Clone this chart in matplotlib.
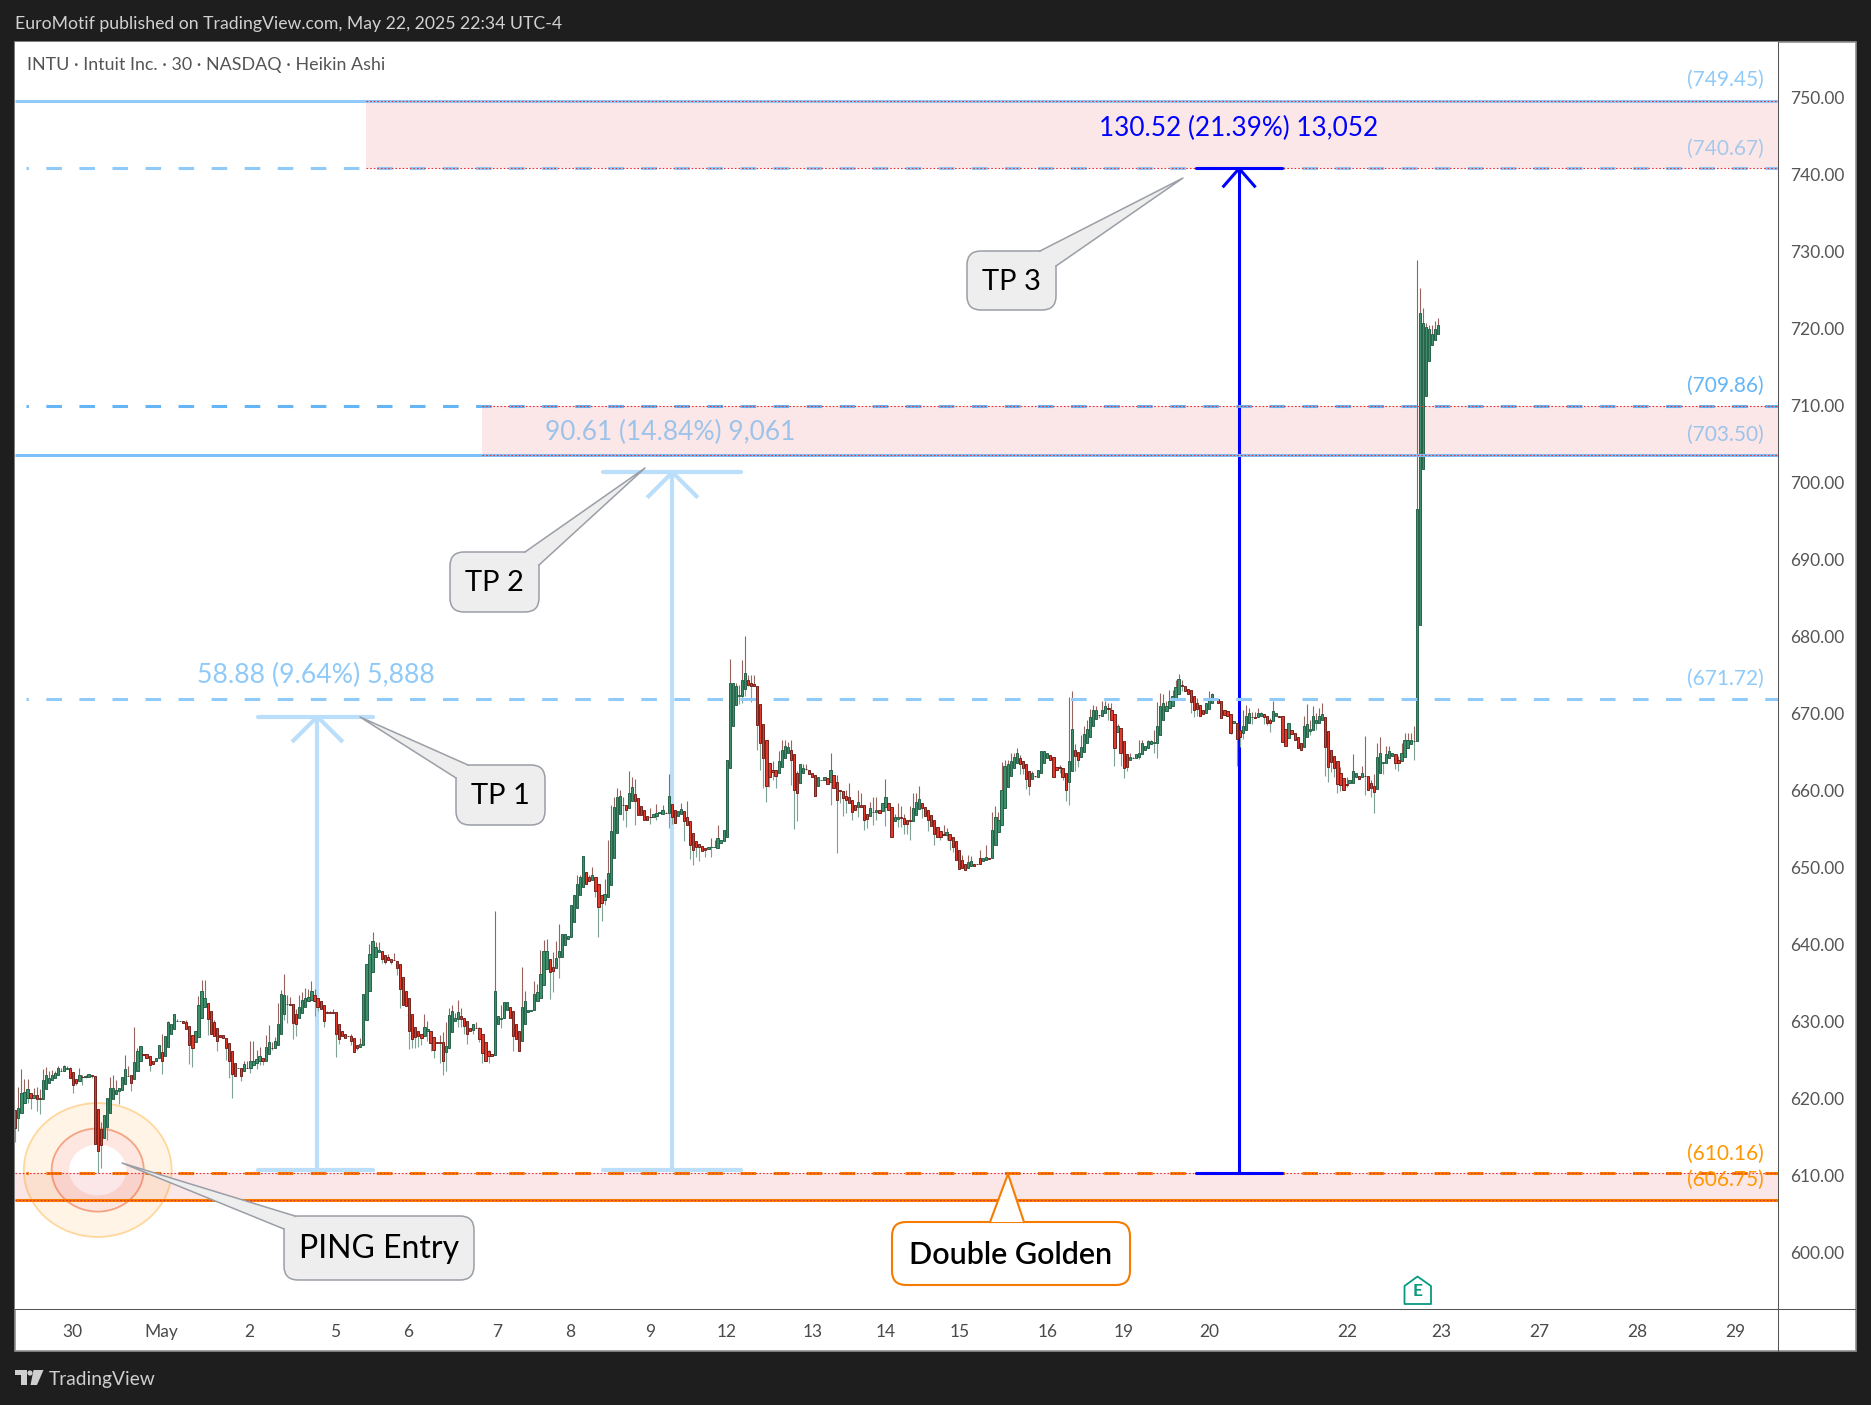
import matplotlib
matplotlib.use("Agg")
import numpy as np
import matplotlib.pyplot as plt
from matplotlib.patches import Rectangle, FancyBboxPatch, Polygon, PathPatch, Circle, Ellipse
from matplotlib.path import Path
from matplotlib.transforms import Affine2D, ScaledTranslation

plt.rcParams['font.family'] = ['Lato', 'DejaVu Sans']
plt.rcParams['lines.scale_dashes'] = False

W, H = 1871, 1405

# candles, one list per stretch of the chart: (open, close, high, low)
bars_apr29 = [
 (618.4,616.1,618.4,614.3),(617.3,618.6,621.4,615.7),(618.0,620.6,623.7,618.0),(619.3,620.7,622.4,619.3),
 (619.9,621.1,622.4,619.3),(620.6,619.9,620.6,618.5),(619.9,620.3,621.3,619.9),(620.3,619.8,621.4,618.2),
 (620.0,619.8,621.1,617.9),(619.8,622.3,623.7,619.8),(621.1,623.0,624.0,621.1),(621.9,622.5,623.4,621.9),
 (622.3,622.9,623.6,622.3),(622.6,623.2,623.5,622.6),(623.0,623.8,624.1,623.0),(623.4,623.45,623.9,623.4),
 (623.4,624.1,624.3,623.4),(623.7,623.9,624.1,623.7),(623.8,622.6,624.0,622.6),(623.3,621.6,623.3,620.6),
 (622.4,621.9,622.4,621.6),(622.1,622.9,623.9,622.1),(622.7,622.65,622.9,621.7),(622.7,622.75,622.9,622.6),
 (622.7,623.1,623.1,622.7),(622.9,622.8,622.9,622.5),(622.8,614.0,622.8,614.0),(618.5,613.1,618.5,610.2),
 (615.9,613.9,616.8,610.8),(614.8,617.7,617.7,614.8),(616.2,619.9,619.9,614.5),(618.0,621.3,622.7,618.0),
 (619.8,621.3,623.0,619.8),(620.5,621.0,622.3,620.5),(620.8,621.3,621.3,619.2),(621.0,622.7,622.7,621.0),
 (621.8,623.7,625.5,621.8),(622.75,622.8,624.1,622.75),(622.9,621.9,622.9,620.9),(622.4,624.6,629.2,622.4),
 (623.4,626.0,626.4,623.4),(624.7,626.7,626.7,624.7),(625.7,625.6,625.7,625.6),(625.7,625.2,625.7,625.2),
 (625.4,624.3,625.4,623.4),(624.8,624.4,624.8,624.4),(624.7,625.2,625.2,624.7),(625.1,626.9,626.9,625.1),
 (625.9,624.8,628.3,623.1),(625.4,628.0,628.0,625.4),(626.6,629.8,629.9,626.6),(628.2,629.6,629.6,628.2),
 (628.9,630.9,630.9,628.9),(629.9,629.95,630.2,629.9),(629.9,629.95,629.95,629.9),(629.9,629.7,629.9,629.7),
 (629.8,628.9,630.1,628.9),(629.3,626.9,629.3,624.4),(628.1,626.4,628.1,624.0),(627.2,628.7,628.7,627.2),
 (627.9,632.0,633.2,627.9),(630.3,633.8,635.3,630.3),(631.8,632.9,635.3,631.8),(632.3,630.2,632.3,628.1),
 (631.3,628.3,631.3,628.3),(629.8,628.0,630.1,628.0),(629.0,627.3,629.0,626.0),(628.1,627.9,628.1,627.9),
 (628.1,627.7,628.1,627.7),(627.8,626.5,627.8,624.9),(627.1,624.7,627.1,622.6),(626.0,623.1,626.0,620.0),
 (624.5,622.8,624.5,622.8),(623.8,623.85,623.9,623.8),(623.8,622.8,623.8,622.2),(623.4,624.4,624.7,623.4),
 (623.9,623.85,624.7,623.9),(623.8,624.8,627.3,623.2),(624.3,624.8,627.3,624.3),
]
bars_may02 = [
 (624.5,625.0,626.2,623.7),(624.8,625.4,626.6,624.2),(625.1,624.7,625.1,624.2),(624.8,626.6,628.1,624.8),
 (625.7,627.2,629.4,625.7),(626.5,626.45,627.2,626.2),(626.4,627.3,627.9,626.4),(626.9,629.6,632.3,626.9),
 (628.2,633.4,634.0,628.2),(630.8,633.3,636.0,630.1),(632.1,632.15,633.3,629.7),(632.1,632.05,633.1,632.0),
 (632.1,629.7,632.1,627.6),(630.9,629.6,631.5,628.0),(630.3,631.8,633.3,630.3),(631.0,632.7,633.7,631.0),
 (631.8,633.0,634.2,631.8),(632.5,633.1,634.1,632.5),(632.7,633.9,635.1,632.7),(633.3,632.6,634.1,630.6),
 (633.0,631.8,633.0,631.2),(632.5,631.5,632.5,631.5),(632.0,630.0,632.0,629.2),(631.1,631.05,631.2,631.0),
 (631.1,631.05,631.2,631.0),(631.1,631.05,631.5,631.0),(631.1,628.3,631.1,625.3),(629.6,627.6,629.6,627.0),
 (628.7,628.0,628.7,628.0),(628.3,627.7,628.3,627.7),(628.0,627.95,628.0,627.95),(628.0,627.4,628.2,626.8),
 (627.7,625.9,627.7,625.9),(626.8,626.5,626.8,626.2),(626.6,627.0,627.7,626.6),(626.9,633.5,633.5,626.9),
 (630.1,637.3,637.3,630.1),(633.8,638.7,640.0,633.8),(636.3,640.3,641.5,636.3),(638.3,639.6,640.2,638.3),
 (638.9,639.2,640.2,638.9),(639.1,638.0,639.1,637.5),(638.5,637.6,638.5,637.3),(638.2,637.9,638.6,637.9),
 (638.0,637.6,638.0,637.4),(637.9,637.85,638.8,637.9),(637.8,636.9,637.8,635.9),(637.4,634.1,637.4,631.6),
 (635.7,632.0,635.7,632.0),(633.9,631.9,633.9,631.9),(632.9,628.6,632.9,626.3),(630.8,627.6,630.8,626.4),
 (629.2,627.9,629.2,626.5),(628.6,628.0,628.6,626.6),(628.3,627.7,628.3,626.8),(628.0,629.2,630.9,628.0),
 (628.6,628.9,630.0,627.4),(628.7,627.1,628.7,626.1),(627.9,626.2,627.9,625.2),(627.2,627.15,627.2,627.1),
 (627.2,627.15,628.1,624.5),(627.2,624.8,628.5,623.0),(625.9,626.7,629.8,623.5),(626.4,630.7,631.6,626.4),
 (628.5,631.3,632.0,628.5),(629.9,630.4,631.0,629.9),(630.2,631.1,632.7,629.2),(630.6,630.2,631.6,629.2),
 (630.4,629.3,630.4,628.2),(629.9,628.2,629.9,627.0),(629.1,628.6,629.1,628.6),(628.8,629.5,629.5,628.2),
 (629.1,629.05,629.8,629.0),(629.1,627.6,629.2,627.2),(628.3,625.8,628.3,624.5),(627.2,624.8,627.2,624.8),
 (626.0,625.4,626.2,624.5),(625.7,625.4,625.7,625.4),
]
bars_may07 = [
 (625.5,633.8,644.3,625.5),(629.6,630.6,630.6,629.6),(630.2,630.4,632.0,629.1),(630.3,632.4,632.4,630.3),
 (631.4,632.4,632.4,631.4),(631.8,630.4,631.8,630.4),(631.2,628.0,631.2,626.1),(629.6,627.6,629.6,627.6),
 (628.6,626.0,628.6,626.0),(627.3,631.8,637.0,627.3),(629.6,632.6,633.8,629.6),(631.1,631.4,631.4,631.1),
 (631.3,631.35,631.4,631.3),(631.4,633.4,635.1,631.4),(632.6,633.7,634.8,632.6),(633.0,636.1,639.2,633.0),
 (634.6,639.0,640.5,634.6),(636.7,639.0,640.6,636.7),(638.0,636.3,638.0,632.8),(637.0,636.5,638.9,633.7),
 (636.8,638.1,640.3,636.8),(638.2,639.0,642.6,635.5),(638.2,641.3,641.3,638.2),(639.8,641.3,641.3,639.8),
 (640.6,641.0,641.0,640.6),(640.8,645.0,645.0,640.8),(642.8,646.3,646.3,642.8),(644.6,647.8,648.9,644.6),
 (646.3,648.6,648.9,646.3),(647.4,651.4,651.4,647.4),(649.3,647.8,649.3,647.8),(648.6,648.1,648.9,648.1),
 (648.2,648.9,649.9,648.2),(648.6,646.8,648.6,646.1),(647.7,644.7,647.7,640.9),(646.3,645.3,646.3,642.9),
 (645.7,646.5,648.4,645.0),(646.1,649.2,653.4,646.1),(647.6,654.6,658.0,647.6),(651.1,657.7,659.1,651.1),
 (654.4,659.1,660.2,654.4),(656.8,659.2,659.9,656.8),(658.0,657.95,659.1,656.1),(658.0,657.3,658.0,655.2),
 (657.6,659.5,662.4,657.6),(658.5,660.3,661.7,658.5),(659.4,658.5,661.4,655.4),(658.9,656.7,658.9,656.7),
 (657.9,656.7,657.9,656.7),(657.3,656.0,657.3,656.0),(656.6,656.0,656.6,656.0),(656.45,656.4,657.6,655.5),
 (656.4,656.8,656.8,656.4),(656.6,657.0,658.1,656.1),(657.0,657.05,657.1,657.0),(656.9,657.3,658.0,656.9),
 (657.0,656.95,657.1,657.0),(657.0,659.2,662.0,655.0),(658.1,656.4,658.1,655.6),(657.3,655.7,657.3,655.7),
 (656.6,657.2,657.2,656.6),(656.9,657.5,658.2,656.9),(657.2,655.9,657.2,653.3),(656.5,655.4,658.5,655.4),
 (655.9,652.8,655.9,651.0),(654.4,652.2,654.4,650.2),(653.3,652.5,653.3,651.2),(652.9,652.5,652.9,650.7),
 (652.7,652.0,652.7,652.0),(652.4,652.1,652.4,651.3),(652.3,652.6,652.6,652.3),(652.5,652.55,653.7,651.3),
 (652.5,652.55,653.4,652.5),(652.4,653.7,655.4,652.4),(653.1,653.5,653.5,653.1),(653.3,654.7,654.7,653.3),
 (653.9,663.8,663.8,653.9),(662.8,673.8,677.0,662.8),(668.3,673.8,673.8,668.3),
]
bars_may12 = [
 (671.0,673.5,673.8,671.0),(672.2,672.25,673.6,671.1),(672.2,674.2,676.8,671.3),(673.1,675.1,680.0,672.2),
 (674.2,673.6,674.9,673.4),(673.9,673.5,674.9,671.4),(673.7,673.4,674.9,673.4),(673.5,668.4,673.5,665.1),
 (671.1,666.0,671.1,662.5),(668.5,664.1,668.5,660.2),(666.4,660.5,666.4,658.4),(663.4,661.7,663.4,660.4),
 (662.6,662.3,663.7,661.2),(662.5,661.8,662.5,660.2),(662.1,663.7,665.0,662.1),(662.9,665.1,666.4,662.9),
 (664.1,665.7,666.4,664.1),(664.8,665.5,666.2,664.8),(665.2,663.9,666.4,660.6),(664.6,660.0,664.6,654.9),
 (662.2,659.5,662.4,655.9),(660.9,663.3,663.3,660.9),(662.1,662.8,663.3,662.1),(662.7,662.65,663.3,662.6),
 (662.6,662.0,662.6,662.0),(662.2,661.6,662.2,661.6),(661.9,659.2,661.9,659.2),(660.5,661.6,661.6,660.5),
 (661.2,661.25,661.3,661.2),(661.2,661.7,661.7,661.2),(661.5,660.7,661.5,660.7),(661.0,662.6,664.8,658.0),
 (661.9,660.2,661.9,660.2),(661.0,658.7,661.9,651.8),(659.9,659.85,659.9,658.3),(659.8,658.9,659.8,656.6),
 (659.2,658.7,659.9,657.0),(659.0,658.2,660.8,658.2),(658.6,657.1,658.6,656.0),(658.0,657.4,658.0,657.4),
 (657.7,658.4,659.9,656.4),(658.0,657.8,659.6,657.8),(658.0,656.0,658.0,654.7),(656.9,656.2,656.9,655.0),
 (656.6,657.6,658.4,656.6),(657.1,657.15,659.0,655.4),(657.1,657.4,659.0,656.0),(657.3,657.0,657.3,657.0),
 (657.2,658.2,658.2,657.2),(657.7,659.0,661.4,655.3),(658.3,657.3,658.3,657.3),(657.8,653.9,657.8,653.9),
 (655.9,656.5,656.8,655.9),(656.2,656.5,658.3,655.2),(656.4,656.35,657.9,655.2),(656.3,655.6,656.9,654.3),
 (656.0,655.6,656.0,654.2),(656.0,655.95,657.9,653.4),(655.9,657.6,659.5,655.9),(656.7,658.4,659.6,656.7),
 (657.5,658.8,660.5,657.5),(658.2,657.6,658.2,656.3),(657.8,656.6,657.8,656.6),(657.3,656.0,657.3,654.6),
 (656.7,655.3,656.7,655.3),(656.0,654.2,656.0,652.8),(655.1,653.9,655.1,653.9),(654.6,653.9,654.6,653.4),
 (654.2,654.15,655.4,654.2),(654.1,654.5,655.0,653.4),(654.3,653.4,654.3,652.2),(653.9,652.6,653.9,651.9),
 (653.3,650.9,653.3,650.9),(652.1,649.7,652.1,649.7),(650.9,649.8,651.5,649.8),(650.4,649.5,650.4,649.5),
 (649.8,650.6,651.5,649.8),(650.1,650.7,651.4,650.1),(650.4,650.1,650.4,650.1),
]
bars_may15 = [
 (650.4,650.35,650.4,650.3),(651.1,650.4,652.1,650.4),(650.7,651.1,651.1,650.7),(650.8,651.2,652.8,650.8),
 (651.1,651.05,651.1,651.0),(651.1,654.7,657.1,651.1),(652.8,656.4,657.9,652.8),(654.5,656.1,657.1,654.5),
 (655.4,659.9,663.6,655.4),(657.6,663.1,663.9,657.6),(660.4,663.3,663.8,660.4),(661.8,663.7,664.7,661.8),
 (662.8,664.2,664.8,662.8),(663.4,664.7,665.4,663.4),(664.1,663.3,664.5,662.0),(663.7,662.8,663.7,662.0),
 (663.3,661.4,663.3,660.1),(662.4,660.5,662.4,659.3),(661.4,662.2,662.4,661.4),(661.8,661.75,661.8,661.7),
 (661.7,662.5,662.5,661.7),(662.1,665.0,665.0,662.1),(663.5,665.0,665.0,663.5),(664.1,664.7,664.7,664.1),
 (664.5,663.9,664.5,663.9),(664.2,661.7,664.2,661.7),(663.0,662.6,663.0,662.6),(662.9,662.85,663.2,662.1),
 (662.8,661.7,662.8,661.3),(662.2,659.9,662.2,658.5),(661.0,663.7,672.0,658.0),(662.4,667.9,672.8,662.4),
 (665.2,664.4,665.9,662.4),(664.9,663.9,664.9,662.9),(664.3,665.5,667.1,664.3),(664.9,667.2,668.2,664.9),
 (666.0,667.9,669.0,666.0),(666.9,669.4,670.5,666.9),(668.2,670.4,671.0,668.2),(669.2,670.3,670.9,669.2),
 (669.75,669.7,669.75,669.3),(669.6,670.3,671.5,669.6),(670.0,670.8,671.5,670.0),(670.55,670.5,671.2,669.0),
 (670.4,669.1,671.2,669.1),(669.8,665.4,669.8,663.1),(667.5,668.2,668.5,667.5),(668.0,664.7,668.0,663.1),
 (666.3,662.8,666.3,661.5),(664.6,663.0,664.6,662.4),(663.8,664.2,664.8,663.8),(664.1,664.15,664.2,664.1),
 (664.1,664.6,664.6,664.1),(664.3,664.8,666.5,664.0),(664.6,666.0,666.4,664.6),(665.2,665.7,665.7,665.2),
 (665.4,666.3,666.5,665.4),(665.9,666.3,666.4,665.9),(666.1,666.15,667.7,664.7),(666.1,668.2,671.4,664.1),
 (667.1,670.9,672.5,667.1),(669.0,671.2,672.4,669.0),(670.2,670.8,671.5,670.2),(670.6,671.5,673.0,670.6),
 (670.9,672.1,673.0,670.9),(671.6,673.3,674.2,671.6),(672.4,674.4,675.0,672.4),(673.6,673.4,674.2,672.8),
 (673.5,672.8,673.5,672.8),(673.1,672.4,673.1,672.4),(673.0,671.4,673.0,670.0),(672.2,670.4,672.2,669.4),
 (671.3,670.5,671.9,669.6),(671.0,669.6,671.0,669.6),(670.3,669.8,670.3,669.8),(670.0,671.2,671.2,670.0),
 (670.5,671.8,672.8,670.5),(671.2,672.4,672.5,671.2),
]
bars_may20 = [
 (671.9,671.85,671.9,671.8),(671.8,671.2,671.8,671.2),(671.5,669.3,671.5,669.3),(670.4,669.7,670.4,669.7),
 (670.2,669.5,670.2,669.5),(669.8,667.4,669.8,667.2),(668.6,668.9,668.9,668.6),(668.7,666.6,668.7,663.1),
 (667.7,666.9,667.7,665.6),(667.3,668.3,670.4,666.6),(667.8,669.6,671.0,667.8),(668.7,669.9,670.6,668.7),
 (669.4,669.45,670.1,668.5),(669.4,669.35,670.1,669.3),(669.4,670.0,670.6,669.4),(669.6,669.9,670.1,669.6),
 (669.8,669.4,669.8,668.5),(669.6,668.7,669.6,668.4),(669.1,668.6,669.3,667.5),(668.9,670.2,671.5,668.9),
 (669.5,669.9,669.9,669.5),(669.6,669.4,669.6,669.4),(669.5,666.2,669.5,666.2),(667.9,665.7,667.9,665.7),
 (666.7,668.6,668.6,666.7),(667.7,667.2,667.7,667.2),(667.4,666.4,667.4,666.4),(666.9,665.4,666.9,665.4),
 (666.1,665.1,666.1,665.1),(665.6,668.3,669.5,665.6),(666.9,668.5,671.1,666.9),(667.6,667.9,669.0,667.1),
 (667.8,669.6,670.8,667.8),(668.6,669.0,670.0,667.8),(668.7,669.5,670.6,668.7),(669.1,669.8,671.2,669.1),
 (669.4,665.6,669.4,661.8),(667.6,663.0,667.6,661.0),(665.2,663.6,665.2,662.3),(664.4,662.8,664.4,661.6),
 (663.7,660.7,663.7,659.6),(662.2,660.6,663.0,659.8),(661.5,659.9,661.5,659.9),(660.7,660.65,661.6,660.4),
 (660.8,661.2,661.2,660.8),(660.9,662.4,664.6,660.9),(661.7,662.1,662.1,661.7),(661.8,661.4,661.8,661.4),
 (661.7,662.1,663.1,661.7),(661.8,661.75,667.0,659.3),(661.8,659.9,661.8,659.9),(660.8,660.2,661.2,659.1),
 (660.5,659.7,662.0,657.0),(660.1,664.3,666.0,660.1),(662.2,664.7,666.8,662.2),(663.5,663.55,663.6,662.0),
 (663.5,664.6,665.7,663.5),(664.1,665.0,665.7,664.1),(664.4,664.7,664.7,664.4),(664.6,663.4,664.6,662.7),
 (663.9,663.4,664.4,662.4),(663.7,664.7,666.0,663.7),(664.2,666.4,667.3,664.2),(665.4,666.5,667.3,665.4),
 (665.9,666.5,667.3,665.9),(666.3,666.35,668.2,663.8),
]
bars_may22 = [
 (666.3,696.5,728.8,666.3),(681.4,721.9,725.1,681.4),(701.6,720.6,722.6,701.6),(711.1,720.1,720.6,711.1),
 (715.7,719.8,720.3,715.7),(717.7,719.2,720.3,717.7),(718.4,719.8,720.9,718.4),(719.2,720.4,721.3,719.2),
]

price_ticks = np.arange(600, 751, 10)
date_labels = ['30', 'May', '2', '5', '6', '7', '8', '9', '12', '13', '14', '15', '16', '19', '20', '22', '23', '27', '28', '29']
date_pos = [19.0, 48.1, 77.3, 105.6, 129.6, 159.2, 183.2, 209.6, 234.8, 263.1, 287.2, 311.6, 340.7, 365.9, 393.9, 439.6, 470.7, 503.0, 535.3, 567.6]

levels_blue = [749.45, 740.67, 709.86, 703.50, 671.72]
levels_orange = [610.16, 606.75]
zones = [(749.45, 740.67, 115.8), (709.86, 703.50, 154.0), (610.16, 606.75, 0.0)]
entry_price = 610.6

BG = '#1e1e1e'
bar_step = 1.0077
pix = Affine2D().scale(1, -1).translate(0, H)

fig = plt.figure(figsize=(W / 100, H / 100), dpi=100, facecolor=BG)
fig.add_artist(Rectangle((15, 41.5), 1840.5, 1309.5, transform=pix, fc='white', ec='#8f8f8f', lw=1.2, zorder=-1))

ax = fig.add_axes([15.5 / W, (H - 1309) / H, (1778 - 15.5) / W, (1309 - 41.8) / H])
ax.set_xlim(0.07, 581.75)
ax.set_ylim(592.55, 757.12)

bars = np.array(bars_apr29 + bars_may02 + bars_may07 + bars_may12 + bars_may15 + bars_may20 + bars_may22)
o, c, hi, lo = bars.T
x = np.arange(len(bars)) * bar_step
up = c >= o
top = np.maximum(o, c)
bot = np.minimum(o, c)

# zones behind everything
for z_top, z_bot, z_x in zones:
    ax.add_patch(Rectangle((z_x, z_bot), 581.75 - z_x, z_top - z_bot, fc='#fbe7e7', ec='none', zorder=1))
    ax.hlines([z_top, z_bot], z_x, 581.75, color='#e8303c', lw=0.8, linestyles=[(0, (1.2, 1.4))], zorder=5)


def ring(cx, cy, rx_out, ry_out, rx_in, ry_in):
    t = np.linspace(0, 2 * np.pi, 181)
    outer = np.column_stack([cx + rx_out * np.cos(t), cy + ry_out * np.sin(t)])
    inner = np.column_stack([cx + rx_in * np.cos(t[::-1]), cy + ry_in * np.sin(t[::-1])])
    return Path.make_compound_path(Path(outer), Path(inner))


ax.add_patch(PathPatch(ring(27.2, entry_price, 24.4, 8.7, 15.2, 5.4), fc=(1, 0.6, 0, 0.10), ec='none', zorder=1.5))
ax.add_patch(PathPatch(ring(27.2, entry_price, 15.2, 5.4, 9.4, 3.3), fc=(0.95, 0.35, 0.15, 0.14), ec='none', zorder=1.6))
ax.add_patch(Ellipse((27.2, entry_price), 48.8, 17.4, fc='none', ec=(1, 0.6, 0, 0.35), lw=1.3, zorder=1.7))
ax.add_patch(Ellipse((27.2, entry_price), 30.4, 10.8, fc='none', ec=(0.93, 0.4, 0.2, 0.55), lw=1.3, zorder=1.7))

# measuring arrows
def measure(xm, x0, x1, y0, y1, half_w, head_h, color, lw, cap_z=2):
    ax.plot([xm, xm], [y0, y1], color=color, lw=lw, solid_capstyle='butt', zorder=2)
    ax.plot([x0, x1], [y0, y0], color=color, lw=lw, solid_capstyle='round', zorder=cap_z)
    ax.plot([x0, x1], [y1, y1], color=color, lw=lw, solid_capstyle='round', zorder=cap_z)
    ax.plot([xm - half_w, xm, xm + half_w], [y1 - head_h, y1, y1 - head_h], color=color, lw=lw, zorder=cap_z)


measure(99.7, 80.0, 118.2, entry_price, entry_price + 58.88, 7.9, 3.1, '#bbdefb', 3.0)
measure(216.9, 193.8, 239.5, entry_price, entry_price + 90.61, 7.9, 3.1, '#bbdefb', 3.0)
measure(403.9, 389.6, 417.9, 610.15, 740.67, 5.1, 2.3, '#0000ff', 2.2, cap_z=5.5)

# candles
ax.vlines(x, top, hi, color='#96635e', lw=0.8, zorder=3)
ax.vlines(x, lo, bot, color='#7ea392', lw=0.8, zorder=3)
ax.bar(x[up], (top - bot)[up], 0.74, bot[up], color='#3f8f6a', edgecolor='#1f5c43', lw=0.65, zorder=3.2)
ax.bar(x[~up], (top - bot)[~up], 0.74, bot[~up], color='#e03a2c', edgecolor='#6e1a14', lw=0.65, zorder=3.2)

# price levels
dash = (9.5, (11.2, 12.6))
ax.hlines(749.45, 0, 581.75, color='#90caf9', lw=2.2, zorder=4)
ax.hlines(740.67, 3.5, 581.75, color='#90caf9', lw=2.2, linestyles=[dash], zorder=4)
ax.hlines(709.86, 3.5, 581.75, color='#64b5f6', lw=2.2, linestyles=[dash], zorder=4)
ax.hlines(703.50, 0, 581.75, color='#7cc0f7', lw=2.2, zorder=4)
ax.hlines(671.72, 3.5, 581.75, color='#90caf9', lw=2.2, linestyles=[dash], zorder=4)
ax.hlines(610.16, 3.5, 581.75, color='#f57c00', lw=2.2, linestyles=[dash], zorder=4)
ax.hlines(606.75, 0, 581.75, color='#f57c00', lw=2.2, zorder=4)

# axes dressing
ax.yaxis.tick_right()
ax.set_yticks(price_ticks, [f'{p:.2f}' for p in price_ticks])
ax.set_xticks(date_pos, date_labels)
ax.tick_params(axis='y', length=0, pad=9, labelsize=12.5, labelcolor='#555555')
ax.tick_params(axis='x', length=0, pad=10.5, labelsize=12.5, labelcolor='#4a4a4a')
nudge = ScaledTranslation(0, -1.2 / 100, fig.dpi_scale_trans)
for lab in ax.get_yticklabels():
    lab.set_transform(lab.get_transform() + nudge)
for s in ['top', 'left']:
    ax.spines[s].set_visible(False)
for s in ['right', 'bottom']:
    ax.spines[s].set_color('#555555')
    ax.spines[s].set_linewidth(0.75)
fig.add_artist(plt.Line2D([1778, 1778], [1309, 1351], transform=pix, color='#555555', lw=0.75))
fig.add_artist(plt.Line2D([1778, 1855], [1309, 1309], transform=pix, color='#555555', lw=0.75))

# texts
def put(px_x, px_y, s, size, color, ha='center', **kw):
    fig.text(px_x, px_y, s, transform=pix, fontsize=size, color=color, ha=ha, va='center', zorder=8, **kw)


put(15, 24.5, 'EuroMotif published on TradingView.com, May 22, 2025 22:34 UTC-4', 12.7, '#d1d1d1', 'left')
put(27, 65, 'INTU · Intuit Inc. · 30 · NASDAQ · Heikin Ashi', 12.9, '#555555', 'left')
put(49, 1380, 'TradingView', 13.8, '#cfcfcf', 'left')
fig.add_artist(Polygon([(15, 1370), (27, 1370), (27, 1385), (21, 1385), (21, 1375), (15, 1375)], transform=pix, fc='#cfcfcf', ec='none'))
fig.add_artist(Circle((30, 1373), 2.6, transform=pix, fc='#cfcfcf', ec='none'))
fig.add_artist(Polygon([(33.5, 1370), (43.5, 1370), (37, 1385), (30.5, 1385)], transform=pix, fc='#cfcfcf', ec='none'))

right_labels = [('(749.45)', 80, '#90caf9'), ('(740.67)', 149, '#a5c8ec'), ('(709.86)', 386, '#64b5f6'),
                ('(703.50)', 434.5, '#9dc3ea'), ('(671.72)', 679, '#90caf9'), ('(610.16)', 1153.5, '#ff9800'),
                ('(606.75)', 1180, '#ff9800')]
for s, py, col in right_labels:
    put(1764, py, s, 15, col, 'right')

put(316, 675.5, '58.88 (9.64%) 5,888', 19.2, '#90caf9')
put(670, 432.5, '90.61 (14.84%) 9,061', 19, '#9dc3ea')
put(1239, 128.5, '130.52 (21.39%) 13,052', 18.8, '#0000ff')


def callout(x0, y0, x1, y1, tip, base, label, size, fc='#eeeeee', ec='#9a9ea6', lw=1.1, weight='normal'):
    box = FancyBboxPatch((x0 + 14, y0 + 14), x1 - x0 - 28, y1 - y0 - 28, boxstyle='round,pad=14,rounding_size=14',
                         transform=pix, fc=fc, ec=ec, lw=lw, zorder=6)
    fig.add_artist(box)
    fig.add_artist(Polygon([base[0], tip, base[1]], transform=pix, fc=fc, ec='none', zorder=6.1))
    fig.add_artist(plt.Line2D([base[0][0], tip[0], base[1][0]], [base[0][1], tip[1], base[1][1]],
                              transform=pix, color=ec, lw=lw, zorder=6.2))
    put((x0 + x1) / 2, (y0 + y1) / 2 + 1, label, size, 'black', weight=weight)


callout(967, 251, 1056, 310, (1183, 178), [(1040, 251), (1056, 266)], 'TP 3', 21)
callout(450, 552, 539, 612, (645, 468), [(525, 552), (539, 565)], 'TP 2', 21)
callout(456, 765, 545, 825, (360, 717), [(468, 765), (456, 778)], 'TP 1', 21)
callout(284, 1216, 474, 1280, (122, 1163), [(295, 1216), (284, 1229)], 'PING Entry', 23)
callout(892, 1222, 1130, 1285, (1008, 1174), [(990, 1222), (1024, 1222)], 'Double Golden', 22,
        fc='white', ec='#f57c00', lw=1.5, weight='semibold')

# earnings flag
fig.add_artist(Polygon([(1404.5, 1286), (1417.5, 1276.5), (1431, 1286), (1431, 1304), (1404.5, 1304)],
                       transform=pix, fc='white', ec='#089981', lw=1.3, joinstyle='round', zorder=6))
put(1417.5, 1291, 'E', 12.5, '#089981', weight='bold')

fig.savefig('out.png', dpi=100, facecolor=BG)
